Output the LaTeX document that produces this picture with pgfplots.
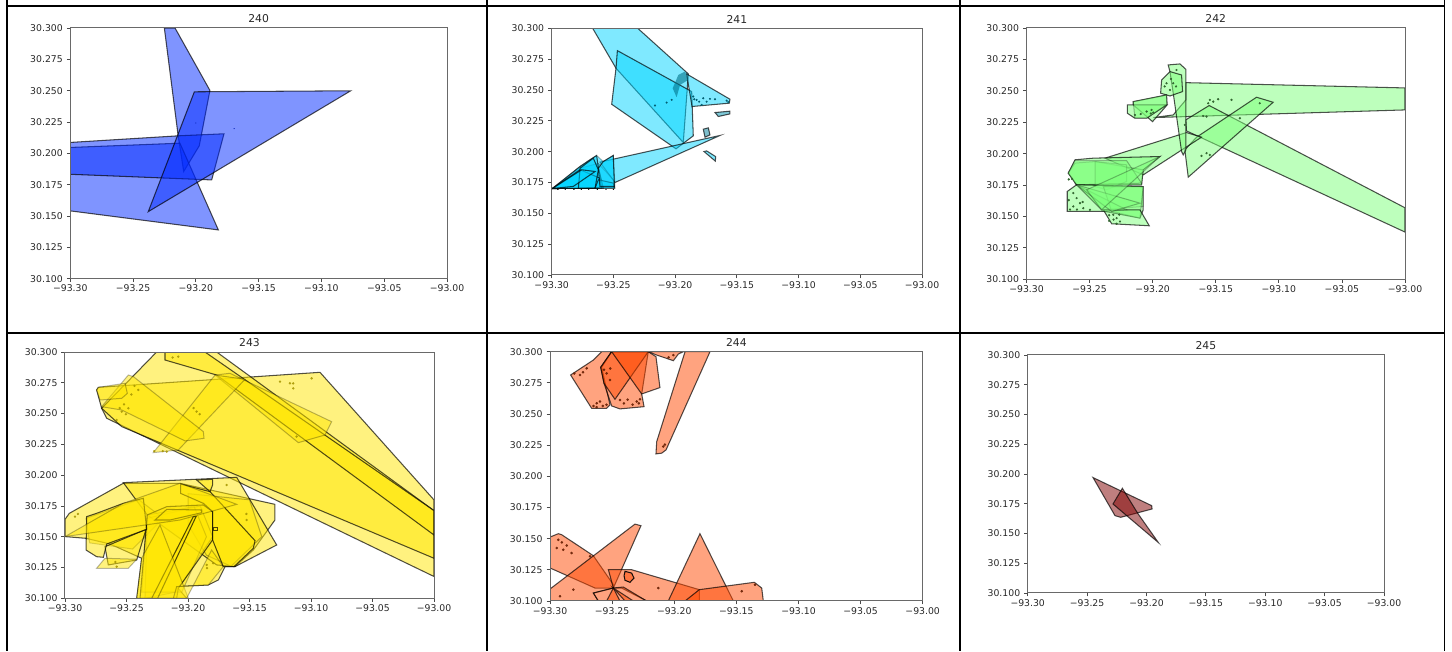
\documentclass[border=0pt]{standalone}
\usepackage{fontspec}
\setmainfont{DejaVu Sans}
\usepackage{pgfplots}
\pgfplotsset{compat=1.18}
\definecolor{cA}{RGB}{0,41,255}
\definecolor{cB}{RGB}{0,212,255}
\definecolor{cC}{RGB}{124,255,121}
\definecolor{cD}{RGB}{255,230,0}
\definecolor{cE}{RGB}{255,72,0}
\definecolor{cF}{RGB}{128,0,0}
\definecolor{spine}{RGB}{105,105,105}
\definecolor{tx}{RGB}{40,40,40}
\pgfplotsset{
  pan/.style={
    scale only axis, axis on top,
    xmin=-93.3, xmax=-93, ymin=30.1, ymax=30.3,
    xtick={-93.3,-93.25,-93.2,-93.15,-93.1,-93.05,-93},
    ytick={30.1,30.125,30.15,30.175,30.2,30.225,30.25,30.275,30.3},
    xticklabels={−93.30,−93.25,−93.20,−93.15,−93.10,−93.05,−93.00},
    yticklabels={30.100,30.125,30.150,30.175,30.200,30.225,30.250,30.275,30.300},
    tick align=outside, tick pos=left, major tick length=3.5pt,
    tick style={line width=0.8pt,color=spine!70!black},
    axis line style={line width=1pt,color=spine},
    ticklabel style={font=\fontsize{9.3}{10}\selectfont,text=tx},
    xticklabel style={yshift=0.8pt},
    yticklabel style={xshift=-0.5pt},
    title style={font=\fontsize{10.8}{12}\selectfont,text=tx,yshift=-4.5pt},
  },
  p/.style={fill=#1,fill opacity=0.5,draw=black,draw opacity=0.68,line width=1.05pt},
  q/.style={fill=#1,fill opacity=0.5,draw=black,draw opacity=0.28,line width=1pt},
  sp/.style={only marks,mark=*,mark size=#1,mark options={draw=none}},
}
\begin{document}
\begin{tikzpicture}[x=1pt,y=1pt]
\useasboundingbox (0,0) rectangle (1452,651);
% ---------- 240
\begin{axis}[pan,at={(70.3pt,372.3pt)},anchor=south west,width=376.7pt,height=250.7pt,title={240}]
\addplot[p=cA] coordinates {(-93.2251,30.3)(-93.2166,30.3)(-93.1888,30.2502)(-93.1973,30.206)(-93.2097,30.1855)(-93.2142,30.2148)} --cycle;
\addplot[p=cA] coordinates {(-93.3,30.2047)(-93.2127,30.2081)(-93.1821,30.1389)(-93.3,30.1541)} --cycle;
\addplot[p=cA] coordinates {(-93.3,30.2087)(-93.2137,30.214)(-93.1776,30.2156)(-93.1874,30.1788)(-93.3,30.1833)} --cycle;
\addplot[p=cA] coordinates {(-93.2012,30.2491)(-93.0767,30.2499)(-93.2379,30.1535)} --cycle;
\addplot[sp=0.3,color=cA!70!black] coordinates {(-93.1695,30.2197)(-93.2,30.2242)};
\end{axis}
% ---------- 241
\begin{axis}[pan,at={(551.7pt,376pt)},anchor=south west,width=370.3pt,height=246.7pt,title={241}]
\addplot[p=cB] coordinates {(-93.2668,30.3)(-93.2303,30.3)(-93.1893,30.263)(-93.1934,30.2074)(-93.2479,30.2676)} --cycle;
\addplot[p=cB] coordinates {(-93.2468,30.2819)(-93.1866,30.2487)(-93.1853,30.2128)(-93.1993,30.2023)(-93.2514,30.2384)(-93.2479,30.2676)} --cycle;
\addplot[p=cB] coordinates {(-93.1907,30.263)(-93.1556,30.2425)(-93.1561,30.2393)(-93.1863,30.2366)} --cycle;
\addplot[fill=cB!55!black,fill opacity=0.6,draw=none] coordinates {(-93.1974,30.2622)(-93.192,30.2649)(-93.1893,30.2582)(-93.196,30.2541)(-93.1988,30.2441)(-93.202,30.2514)} --cycle;
\addplot[p=cB!70!black] coordinates {(-93.1677,30.2317)(-93.1556,30.2328)(-93.1556,30.2306)(-93.165,30.2285)} --cycle;
\addplot[p=cB!60!black] coordinates {(-93.1772,30.2182)(-93.1731,30.2193)(-93.1718,30.2136)(-93.1758,30.2117)} --cycle;
\addplot[p=cB] coordinates {(-93.1766,30.2001)(-93.1745,30.2006)(-93.1672,30.196)(-93.1674,30.1923)} --cycle;
\addplot[p=cB] coordinates {(-93.2609,30.1915)(-93.1637,30.2131)(-93.2487,30.175)} --cycle;
\addplot[q=cB] coordinates {(-93.2995,30.1701)(-93.277,30.188)(-93.2636,30.1969)(-93.2582,30.192)(-93.2501,30.1969)(-93.2487,30.1704)} --cycle;
\addplot[q=cB] coordinates {(-93.2995,30.1701)(-93.277,30.1866)(-93.2622,30.1905)(-93.2501,30.1772)(-93.2492,30.1704)} --cycle;
\addplot[p=cB] coordinates {(-93.2995,30.1701)(-93.277,30.188)(-93.269,30.1934)(-93.2636,30.1969)(-93.2622,30.1871)(-93.2582,30.1704)} --cycle;
\addplot[p=cB] coordinates {(-93.2995,30.1701)(-93.277,30.1853)(-93.2609,30.1785)(-93.2595,30.1704)} --cycle;
\addplot[p=cB] coordinates {(-93.2784,30.1704)(-93.277,30.1866)(-93.2663,30.1947)(-93.2622,30.1853)(-93.2649,30.1704)} --cycle;
\addplot[p=cB] coordinates {(-93.2649,30.1704)(-93.2622,30.1772)(-93.2501,30.1745)(-93.2492,30.1704)} --cycle;
\addplot[p=cB] coordinates {(-93.2622,30.1866)(-93.2582,30.192)(-93.2501,30.1969)(-93.2492,30.1718)(-93.2609,30.1718)} --cycle;
\addplot[p=cB] coordinates {(-93.2995,30.1701)(-93.2825,30.1718)(-93.2649,30.1839)(-93.2757,30.1853)} --cycle;
\addplot[sp=0.8,color=cB!45!black] coordinates {(-93.1853,30.2447)(-93.1826,30.242)(-93.1772,30.2433)(-93.1718,30.2428)(-93.1677,30.2425)(-93.1583,30.2414)(-93.1785,30.2379)(-93.2163,30.2374)(-93.2069,30.2398)(-93.2028,30.242)(-93.1845,30.2425)(-93.1805,30.2405)(-93.1745,30.2405)(-93.157,30.2402)};
\addplot[sp=0.4,color=black] coordinates {(-93.295,30.1695)(-93.289,30.1695)(-93.282,30.1695)(-93.276,30.1695)(-93.27,30.1695)(-93.263,30.1695)(-93.256,30.1695)(-93.25,30.1695)};
\end{axis}
% ---------- 242
\begin{axis}[pan,at={(1026.5pt,371.7pt)},anchor=south west,width=378.5pt,height=251.3pt,title={242}]
\addplot[p=cC] coordinates {(-93.1737,30.2565)(-93,30.2523)(-93,30.2348)(-93.1995,30.2287)(-93.1837,30.2308)(-93.1737,30.2428)} --cycle;
\addplot[p=cC] coordinates {(-93.1552,30.2383)(-93,30.1569)(-93,30.1376)(-93.1732,30.2181)(-93.1737,30.2269)} --cycle;
\addplot[p=cC] coordinates {(-93.1177,30.2449)(-93.1045,30.2409)(-93.1718,30.1813)(-93.1745,30.203)(-93.1652,30.2131)} --cycle;
\addplot[p=cC] coordinates {(-93.2378,30.1964)(-93.1732,30.2168)(-93.1613,30.2131)(-93.2075,30.1831)} --cycle;
\addplot[p=cC] coordinates {(-93.2669,30.1845)(-93.2616,30.1951)(-93.2471,30.1964)(-93.1943,30.1977)(-93.2075,30.1871)(-93.2088,30.1752)(-93.2603,30.1752)} --cycle;
\addplot[q=cC] coordinates {(-93.2616,30.1925)(-93.2457,30.1937)(-93.2075,30.1871)(-93.2088,30.1752)(-93.2603,30.1752)(-93.2669,30.1845)} --cycle;
\addplot[q=cC] coordinates {(-93.2457,30.1937)(-93.2207,30.1911)(-93.2207,30.1778)(-93.2365,30.1712)(-93.2457,30.1738)} --cycle;
\addplot[q=cC] coordinates {(-93.2616,30.1945)(-93.2207,30.1945)(-93.2088,30.1765)(-93.2603,30.1752)(-93.2669,30.1845)} --cycle;
\addplot[p=cC] coordinates {(-93.2677,30.1699)(-93.2603,30.1752)(-93.2075,30.1738)(-93.2075,30.1553)(-93.2101,30.1487)(-93.2378,30.154)(-93.2677,30.154)} --cycle;
\addplot[q=cC] coordinates {(-93.2603,30.1752)(-93.2075,30.1738)(-93.2075,30.158)(-93.2405,30.1553)} --cycle;
\addplot[q=cC] coordinates {(-93.2391,30.1738)(-93.2075,30.1738)(-93.2101,30.1487)(-93.2325,30.154)} --cycle;
\addplot[p=cC] coordinates {(-93.2391,30.1553)(-93.2101,30.1553)(-93.2027,30.1426)(-93.2325,30.1442)} --cycle;
\addplot[q=cC] coordinates {(-93.2603,30.1752)(-93.2207,30.1553)(-93.2391,30.154)} --cycle;
\addplot[q=cC] coordinates {(-93.2603,30.1752)(-93.2101,30.1606)(-93.2325,30.154)} --cycle;
\addplot[q=cC] coordinates {(-93.1943,30.1977)(-93.2405,30.1553)(-93.2523,30.1712)} --cycle;
\addplot[p=cC] coordinates {(-93.1877,30.2706)(-93.1784,30.2714)(-93.1737,30.2671)(-93.1737,30.203)(-93.1758,30.199)(-93.1771,30.2017)(-93.1837,30.2481)(-93.1863,30.2653)} --cycle;
\addplot[p=cC] coordinates {(-93.1929,30.2587)(-93.1863,30.2653)(-93.1771,30.2626)(-93.1763,30.2494)(-93.1863,30.2459)(-93.1937,30.2481)} --cycle;
\addplot[p=cC] coordinates {(-93.2154,30.2414)(-93.189,30.2467)(-93.1885,30.2388)(-93.2001,30.2255)(-93.2154,30.2388)} --cycle;
\addplot[p=cC] coordinates {(-93.2201,30.2388)(-93.189,30.2388)(-93.2048,30.2282)(-93.2141,30.2282)(-93.2201,30.2322)} --cycle;
\addplot[q=cC] coordinates {(-93.2154,30.2414)(-93.189,30.2467)(-93.189,30.2388)(-93.2048,30.2282)(-93.2141,30.2282)} --cycle;
\addplot[sp=0.9,color=cC!40!black] coordinates {(-93.1547,30.2428)(-93.152,30.2414)(-93.1481,30.2433)(-93.156,30.2401)(-93.1375,30.2428)(-93.16,30.23)(-93.1573,30.2295)(-93.1613,30.1982)(-93.1573,30.2004)(-93.1547,30.199)(-93.1309,30.2282)(-93.1151,30.2401)(-93.1745,30.2229)(-93.2009,30.2348)(-93.1995,30.2327)(-93.2048,30.2335)(-93.2141,30.2308)(-93.2629,30.1686)(-93.2603,30.1646)(-93.2576,30.1606)(-93.255,30.1566)(-93.2629,30.158)(-93.2497,30.1553)(-93.2312,30.1513)(-93.2286,30.1487)(-93.2259,30.146)(-93.2286,30.1442)(-93.1811,30.2666)(-93.1837,30.256)(-93.189,30.256)(-93.1863,30.2507)(-93.2665,30.163)(-93.2655,30.1555)(-93.26,30.1555)(-93.2555,30.1615)(-93.2345,30.151)(-93.231,30.1475)(-93.2345,30.1465)(-93.2265,30.1515)(-93.1905,30.2535)(-93.1855,30.2595)(-93.1815,30.2535)(-93.2015,30.232)(-93.2095,30.2315)(-93.2665,30.1795)(-93.264,30.18)};
\end{axis}
% ---------- 243
\begin{axis}[pan,at={(65pt,52.7pt)},anchor=south west,width=369pt,height=246.3pt,title={243}]
\addplot[p=cD] coordinates {(-93.2743,30.2692)(-93.2729,30.2713)(-93.0927,30.2835)(-93,30.1799)(-93,30.1177)(-93.2661,30.2462)(-93.2702,30.2543)} --cycle;
\addplot[p=cD] coordinates {(-93.2702,30.2543)(-93.2255,30.3)(-93.1767,30.3)(-93,30.1712)(-93,30.1325)(-93.2539,30.2394)} --cycle;
\addplot[p=cD] coordinates {(-93.2187,30.3)(-93.1862,30.3)(-93,30.1712)(-93,30.1514)(-93.1767,30.2813)(-93.2187,30.2935)} --cycle;
\addplot[q=cD] coordinates {(-93.178,30.2813)(-93.1659,30.2827)(-93.0832,30.2434)(-93.0886,30.2326)(-93.1103,30.2264)} --cycle;
\addplot[q=cD] coordinates {(-93.2282,30.2183)(-93.178,30.2813)(-93.1537,30.2778)(-93.2079,30.2204)} --cycle;
\addplot[q=cD] coordinates {(-93.2485,30.2813)(-93.2444,30.28)(-93.1875,30.2353)(-93.187,30.2299)(-93.2024,30.2278)(-93.2539,30.2529)(-93.2702,30.2556)} --cycle;
\addplot[q=cD] coordinates {(-93.2743,30.2692)(-93.2729,30.2713)(-93.2512,30.2746)(-93.2493,30.2664)(-93.2539,30.2624)(-93.2715,30.261)} --cycle;
% lower group
\addplot[p=cD] coordinates {(-93.3,30.1641)(-93.2965,30.169)(-93.2526,30.1934)(-93.2065,30.1934)(-93.1293,30.1763)(-93.1293,30.1636)(-93.1469,30.1392)(-93.1618,30.1257)(-93.1699,30.1257)(-93.1753,30.1149)(-93.1835,30.1108)(-93.2092,30.1095)(-93.2011,30.1)(-93.2417,30.1)(-93.2377,30.1325)(-93.2634,30.1441)(-93.2829,30.1487)(-93.3,30.1501)} --cycle;
\addplot[p=cD] coordinates {(-93.2526,30.1939)(-93.1604,30.1982)(-93.1279,30.1433)(-93.1618,30.1257)(-93.1767,30.1271)(-93.2331,30.1677)} --cycle;
\addplot[q=cD] coordinates {(-93.2829,30.165)(-93.24,30.18)(-93.22,30.165)(-93.245,30.14)(-93.28,30.145)} --cycle;
\addplot[q=cD] coordinates {(-93.2,30.185)(-93.15,30.18)(-93.14,30.15)(-93.165,30.126)(-93.185,30.135)(-93.2,30.16)} --cycle;
\addplot[q=cD] coordinates {(-93.2331,30.165)(-93.19,30.175)(-93.18,30.15)(-93.21,30.105)(-93.235,30.1)} --cycle;
\addplot[q=cD] coordinates {(-93.2331,30.1677)(-93.195,30.1744)(-93.185,30.15)(-93.205,30.105)(-93.2377,30.105)} --cycle;
\addplot[p=cD] coordinates {(-93.2331,30.1677)(-93.2173,30.1744)(-93.1875,30.1758)(-93.18,30.1704)(-93.18,30.1474)(-93.2079,30.1081)(-93.2092,30.1)(-93.239,30.1)} --cycle;
\addplot[p=cD] coordinates {(-93.2268,30.1636)(-93.2173,30.1722)(-93.1889,30.1717)(-93.1889,30.1695)(-93.2146,30.1636)} --cycle;
\addplot[p=cD] coordinates {(-93.2295,30.1)(-93.1957,30.1663)(-93.1935,30.1663)(-93.2247,30.1)} --cycle;
\addplot[q=cD] coordinates {(-93.2417,30.1)(-93.2377,30.1325)(-93.2228,30.1595)(-93.1997,30.1)} --cycle;
\addplot[q=cD] coordinates {(-93.2092,30.1095)(-93.1835,30.1108)(-93.1713,30.1257)(-93.1808,30.1392)(-93.2011,30.1)(-93.2119,30.1)} --cycle;
\addplot[p=cD] coordinates {(-93.2675,30.1419)(-93.2341,30.156)(-93.2417,30.1311)(-93.2648,30.1271)} --cycle;
\addplot[p=cD] coordinates {(-93.206,30.1928)(-93.1821,30.1866)(-93.1455,30.1468)(-93.1469,30.1406)(-93.1626,30.1257)(-93.1713,30.1257)(-93.18,30.1474)(-93.18,30.1704)(-93.1875,30.1771)(-93.206,30.1852)} --cycle;
\addplot[p=cD] coordinates {(-93.193,30.1961)(-93.18,30.1966)(-93.18,30.192)(-93.1821,30.1866)} --cycle;
\addplot[p=cD] coordinates {(-93.2829,30.1392)(-93.2824,30.1663)(-93.2743,30.169)(-93.2526,30.1771)(-93.2363,30.1812)(-93.2336,30.156)(-93.2661,30.1441)(-93.2688,30.1333)(-93.2743,30.1338)} --cycle;
\addplot[q=cD] coordinates {(-93.2743,30.1244)(-93.2675,30.1325)(-93.2417,30.1317)(-93.2485,30.1244)} --cycle;
\addplot[q=cD] coordinates {(-93.3,30.1501)(-93.2526,30.1771)(-93.2065,30.1934)(-93.1604,30.1763)(-93.2065,30.1636)} --cycle;
\addplot[p=cD] coordinates {(-93.1794,30.1576)(-93.1759,30.1576)(-93.1759,30.1547)(-93.1794,30.1547)} --cycle;
\addplot[sp=1,color=cD!65!black,opacity=0.8] coordinates {(-93.1171,30.2746)(-93.1144,30.2705)(-93.1252,30.2759)(-93.0995,30.2786)(-93.2539,30.2516)(-93.2485,30.2543)(-93.193,30.2516)(-93.2404,30.2692)(-93.2079,30.2962)(-93.258,30.2448)(-93.1117,30.2313)(-93.2173,30.2191)(-93.1686,30.192)(-93.1523,30.1636)(-93.1848,30.1271)(-93.258,30.1257)(-93.2919,30.1663)(-93.2555,30.2545)(-93.252,30.2575)(-93.2505,30.2495)(-93.246,30.2655)(-93.2435,30.2725)(-93.1955,30.2545)(-93.1905,30.2495)(-93.1145,30.2745)(-93.2125,30.2955)(-93.2205,30.2195)(-93.2275,30.2195)(-93.1525,30.1685)(-93.1795,30.1285)(-93.1845,30.1245)(-93.259,30.1295)(-93.2895,30.1685)};
\end{axis}
% ---------- 244
\begin{axis}[pan,at={(550pt,50pt)},anchor=south west,width=372.7pt,height=249.3pt,title={244}]
\addplot[p=cE] coordinates {(-93.2834,30.2813)(-93.2651,30.2933)(-93.2584,30.3)(-93.2504,30.3)(-93.2584,30.2875)(-93.2517,30.2573)(-93.2544,30.2546)(-93.2665,30.2546)} --cycle;
\addplot[p=cE] coordinates {(-93.2592,30.2875)(-93.2504,30.3)(-93.2209,30.3)(-93.2262,30.2661)(-93.2243,30.2559)(-93.2437,30.2541)(-93.2504,30.2565)(-93.2565,30.2746)} --cycle;
\addplot[p=cE] coordinates {(-93.2592,30.2875)(-93.2504,30.3)(-93.2209,30.3)(-93.2477,30.2618)(-93.2565,30.2746)} --cycle;
\addplot[p=cE] coordinates {(-93.2504,30.3)(-93.2209,30.3)(-93.2147,30.296)(-93.2115,30.2712)(-93.2262,30.2661)} --cycle;
\addplot[p=cE] coordinates {(-93.2209,30.3)(-93.1927,30.3)(-93.1967,30.2981)(-93.2007,30.2928)(-93.2141,30.2973)} --cycle;
\addplot[p=cE] coordinates {(-93.1913,30.3)(-93.1712,30.3)(-93.2066,30.2212)(-93.2101,30.2186)(-93.2147,30.218)(-93.2141,30.2279)} --cycle;
\addplot[p=cE] coordinates {(-93.3,30.1513)(-93.2933,30.154)(-93.2906,30.1532)(-93.2651,30.1363)(-93.249,30.1131)(-93.249,30.1104)(-93.2638,30.1104)(-93.3,30.1265)} --cycle;
\addplot[p=cE] coordinates {(-93.3,30.1)(-93.3,30.1096)(-93.2316,30.1617)(-93.2268,30.1604)(-93.249,30.1104)(-93.2651,30.1064)(-93.2611,30.1)} --cycle;
\addplot[p=cE] coordinates {(-93.253,30.1251)(-93.2343,30.1251)(-93.1798,30.1091)(-93.1798,30.1)(-93.2222,30.1)(-93.2423,30.1104)(-93.249,30.1104)} --cycle;
\addplot[p=cE] coordinates {(-93.1793,30.154)(-93.2048,30.1)(-93.1524,30.1)} --cycle;
\addplot[p=cE] coordinates {(-93.1798,30.1091)(-93.1355,30.115)(-93.1296,30.1104)(-93.1283,30.1)(-93.1913,30.1)} --cycle;
\addplot[p=cE] coordinates {(-93.2651,30.1064)(-93.249,30.1104)(-93.241,30.1112)(-93.2222,30.1)(-93.2611,30.1)} --cycle;
\addplot[p=cE] coordinates {(-93.249,30.1104)(-93.2544,30.1)(-93.2437,30.1)} --cycle;
\addplot[p=cE] coordinates {(-93.249,30.1104)(-93.2396,30.1)(-93.2329,30.1)} --cycle;
\addplot[p=cE,draw opacity=0.9] coordinates {(-93.2396,30.1238)(-93.2343,30.1224)(-93.2324,30.1184)(-93.2356,30.115)(-93.2396,30.1166)(-93.2404,30.1203)} --cycle;
\addplot[sp=1.1,color=cE!40!black,opacity=0.85] coordinates {(-93.2759,30.2813)(-93.2705,30.2867)(-93.2544,30.2826)(-93.2517,30.2773)(-93.2624,30.2586)(-93.2598,30.26)(-93.2437,30.2613)(-93.2302,30.26)(-93.2276,30.2618)(-93.2007,30.2973)(-93.2088,30.2239)(-93.2933,30.1491)(-93.2893,30.1411)(-93.2826,30.1385)(-93.292,30.1038)(-93.2812,30.1091)(-93.2128,30.1104)(-93.1457,30.1078)(-93.135,30.1131)(-93.2678,30.1358)(-93.265,30.2565)(-93.2625,30.2555)(-93.2575,30.2565)(-93.2545,30.2575)(-93.2405,30.2585)(-93.2375,30.2615)(-93.2335,30.2575)(-93.2285,30.2585)(-93.2805,30.2825)(-93.2735,30.2835)(-93.2565,30.2855)(-93.2515,30.2865)(-93.2045,30.2955)(-93.2075,30.2255)(-93.2905,30.147)(-93.2945,30.1425)(-93.2865,30.1445)};
\end{axis}
% ---------- 245
\begin{axis}[pan,at={(1027.7pt,58pt)},anchor=south west,width=356.3pt,height=238pt,title={245}]
\addplot[p=cF] coordinates {(-93.245,30.197)(-93.1956,30.1734)(-93.1953,30.1706)(-93.2217,30.1636)(-93.2265,30.165)} --cycle;
\addplot[p=cF] coordinates {(-93.2203,30.188)(-93.2074,30.167)(-93.19,30.1424)(-93.2282,30.1748)} --cycle;
\end{axis}
% table frame
\draw[black,line width=1.6pt] (7,651) -- (7,0);
\draw[black,line width=1.6pt] (6.2,645) -- (1445,645);
\draw[black,line width=1.8pt] (6.2,318.3) -- (1445,318.3);
\draw[black,line width=1.8pt] (487.3,651) -- (487.3,0);
\draw[black,line width=1.8pt] (960,651) -- (960,0);
\draw[black,line width=1.8pt] (1444.5,651) -- (1444.5,0);
\end{tikzpicture}
\end{document}
